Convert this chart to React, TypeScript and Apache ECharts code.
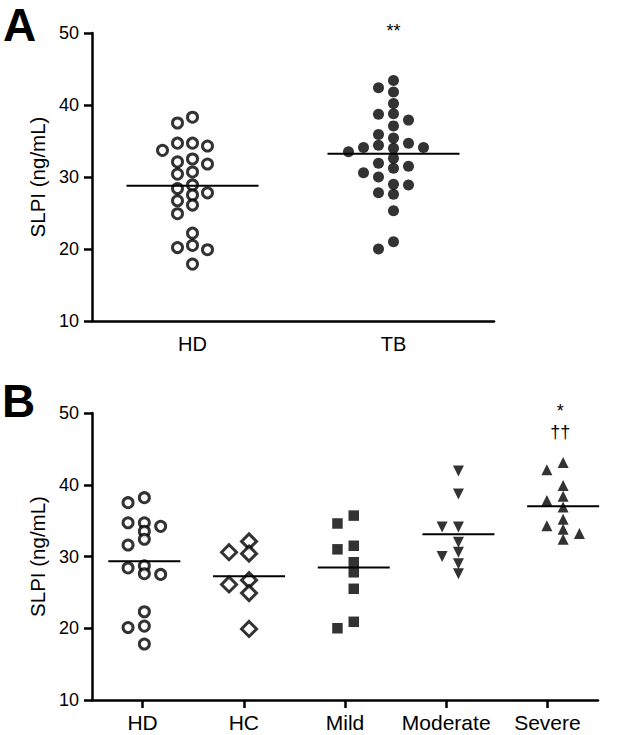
import React, { useEffect, useRef } from 'react';
import * as echarts from 'echarts';

// ---------- data ----------
const categoriesA = ['HD', 'TB'];
const hdA = [38.3, 37.5, 34.7, 33.7, 34.3, 34.7, 32.1, 31.8, 32.5, 30.7, 30.4, 28.4, 28.9, 27.5, 27.8, 26.7, 26.1, 24.9, 22.2, 20.2, 19.9, 20.5, 17.9];
const tbA = [43.4, 42.4, 41.8, 40.2, 38.8, 37.9, 38.7, 37.1, 35.9, 35.4, 34.7, 34.1, 34.0, 34.1, 34.4, 33.5, 32.6, 31.5, 31.9, 31.2, 30.6, 30.0, 28.9, 29.0, 27.6, 27.8, 25.3, 21.0, 20.0];

const categoriesB = ['HD', 'HC', 'Mild', 'Moderate', 'Severe'];
const hdB = [38.2, 37.5, 34.7, 34.2, 34.7, 33.5, 32.4, 31.6, 28.4, 28.7, 27.5, 27.6, 22.3, 20.3, 20.1, 17.8];
const hcB = [32.1, 30.4, 30.6, 26.1, 26.7, 24.9, 19.9];
const mildB = [35.7, 34.6, 31.5, 31.0, 29.2, 27.8, 25.5, 20.9, 20.0];
const moderateB = [41.9, 38.7, 34.1, 34.1, 32.0, 30.6, 30.0, 29.0, 27.6];
const severeB = [43.1, 42.1, 39.9, 38.4, 37.8, 36.9, 35.2, 34.3, 33.8, 33.2, 32.4];

const yMin = 10;
const yMax = 50;
const yStep = 10;
const yAxisTitle = 'SLPI (ng/mL)';
const panelLetters = ['A', 'B'];
const sigA = [{ category: 1, text: '**' }];
const sigB = [{ category: 4, text: '*' }, { category: 4, text: '††' }];

// ---------- layout ----------
const FONT = '"Liberation Sans", Arial, Helvetica, sans-serif';
const LEFT = 92;
const GA = { top: 33, height: 288, width: 402 };
const GB = { top: 413, height: 287, width: 506 };
const PITCH_B = 104.7; // px between point columns in panel B

const mean = (a: number[]) => a.reduce((s, v) => s + v, 0) / a.length;

function swarm(values: number[], cat: number, unitPx: number, yPx: number, colPx: number, minDist: number) {
  const order = values.map((_, i) => i).sort((a, b) => values[b] - values[a]);
  const cols = new Map<number, number[]>();
  const out: number[][] = new Array(values.length);
  for (const i of order) {
    const v = values[i];
    let k = 0;
    for (let s = 0; s < 30; s++) {
      const cand = s === 0 ? 0 : s % 2 === 1 ? -(s + 1) / 2 : s / 2;
      const list = cols.get(cand) || [];
      if (list.every((w) => Math.abs(w - v) * yPx >= minDist)) {
        k = cand;
        break;
      }
    }
    cols.set(k, [...(cols.get(k) || []), v]);
    out[i] = [cat + (k * colPx) / unitPx, v];
  }
  return out;
}

function meanLine(hw: number) {
  return (params: any, api: any) => {
    const c = api.coord([api.value(0), api.value(1)]);
    return {
      type: 'line',
      shape: { x1: c[0] - hw, y1: c[1], x2: c[0] + hw, y2: c[1] },
      style: { stroke: '#000', lineWidth: 2 },
    };
  };
}

const axisLineStyle = { color: '#000', width: 2.5 };

function yAxisFor(gridIndex: number) {
  return {
    type: 'value',
    gridIndex,
    min: yMin,
    max: yMax,
    interval: yStep,
    axisLine: { show: true, onZero: false, lineStyle: axisLineStyle },
    axisTick: { show: true, length: 8, lineStyle: axisLineStyle },
    axisLabel: { fontSize: 18, color: '#000', margin: 13, fontFamily: FONT },
    splitLine: { show: false },
    name: yAxisTitle,
    nameLocation: 'middle',
    nameGap: 37,
    nameTextStyle: { fontSize: 20.5, color: '#000', fontFamily: FONT },
  };
}

export default function App() {
  const ref = useRef<HTMLDivElement>(null);
  useEffect(() => {
    if (!ref.current) return;
    const chart = echarts.init(ref.current, undefined, { renderer: 'svg' });

    const unitA = GA.width / categoriesA.length;
    const yPxA = GA.height / (yMax - yMin);
    const yPxB = GB.height / (yMax - yMin);

    const groupsB = [hdB, hcB, mildB, moderateB, severeB];
    const symB = [
      { symbol: 'circle', size: 10, open: true, rotate: 0 },
      { symbol: 'diamond', size: 15, open: true, rotate: 0 },
      { symbol: 'rect', size: 10.5, open: false, rotate: 0 },
      { symbol: 'triangle', size: 11, open: false, rotate: 180 },
      { symbol: 'triangle', size: 11, open: false, rotate: 0 },
    ];
    const colB = [16.3, 20, 16.3, 16.3, 16.3];
    const distB = [7, 12, 9, 9, 9];

    const seriesB = groupsB.map((g, i) => ({
      type: 'scatter',
      xAxisIndex: 3,
      yAxisIndex: 1,
      symbol: symB[i].symbol,
      symbolSize: symB[i].size,
      symbolRotate: symB[i].rotate,
      data: swarm(g, i, PITCH_B, yPxB, colB[i], distB[i]),
      itemStyle: symB[i].open
        ? { color: '#fff', borderColor: '#000', borderWidth: 3 }
        : { color: '#000' },
      z: 2,
    }));

    const graphic: any[] = [
      { type: 'text', left: 3, top: 2, style: { text: panelLetters[0], font: `bold 46px ${FONT}`, fill: '#000' } },
      { type: 'text', left: 2, top: 378, style: { text: panelLetters[1], font: `bold 46px ${FONT}`, fill: '#000' } },
    ];
    sigA.forEach((s) => {
      graphic.push({
        type: 'text',
        x: LEFT + unitA * (s.category + 0.5),
        y: 31,
        style: { text: s.text, font: `18px ${FONT}`, fill: '#000', align: 'center', verticalAlign: 'middle' },
      });
    });
    sigB.forEach((s, j) => {
      graphic.push({
        type: 'text',
        x: LEFT + PITCH_B * (s.category + 0.5) - 3,
        y: 411 + j * 21,
        style: { text: s.text, font: `18px ${FONT}`, fill: '#000', align: 'center', verticalAlign: 'middle' },
      });
    });

    chart.setOption({
      animation: false,
      textStyle: { fontFamily: FONT },
      grid: [
        { left: LEFT, top: GA.top, width: GA.width, height: GA.height },
        { left: LEFT, top: GB.top, width: GB.width, height: GB.height },
      ],
      xAxis: [
        {
          type: 'category',
          gridIndex: 0,
          data: categoriesA,
          boundaryGap: true,
          axisLine: { show: true, onZero: false, lineStyle: axisLineStyle },
          axisTick: { show: false },
          axisLabel: { fontSize: 20, color: '#000', margin: 13, interval: 0, fontFamily: FONT },
          splitLine: { show: false },
        },
        { type: 'value', gridIndex: 0, show: false, min: -0.5, max: categoriesA.length - 0.5 },
        {
          type: 'category',
          gridIndex: 1,
          data: categoriesB,
          boundaryGap: true,
          axisLine: { show: true, onZero: false, lineStyle: axisLineStyle },
          axisTick: { show: true, alignWithLabel: true, length: 8, lineStyle: axisLineStyle },
          axisLabel: { fontSize: 21, color: '#000', margin: 12, interval: 0, fontFamily: FONT },
          splitLine: { show: false },
        },
        { type: 'value', gridIndex: 1, show: false, min: -0.5, max: -0.5 + GB.width / PITCH_B },
      ],
      yAxis: [yAxisFor(0), yAxisFor(1)],
      graphic,
      series: [
        {
          type: 'scatter',
          xAxisIndex: 1,
          yAxisIndex: 0,
          symbol: 'circle',
          symbolSize: 10,
          data: swarm(hdA, 0, unitA, yPxA, 15, 10),
          itemStyle: { color: '#fff', borderColor: '#000', borderWidth: 3 },
          z: 2,
        },
        {
          type: 'scatter',
          xAxisIndex: 1,
          yAxisIndex: 0,
          symbol: 'circle',
          symbolSize: 11,
          data: swarm(tbA, 1, unitA, yPxA, 15, 10),
          itemStyle: { color: '#000' },
          z: 2,
        },
        {
          type: 'custom',
          xAxisIndex: 1,
          yAxisIndex: 0,
          data: [hdA, tbA].map((g, i) => [i, mean(g)]),
          renderItem: meanLine(66),
          z: 3,
        },
        ...seriesB,
        {
          type: 'custom',
          xAxisIndex: 3,
          yAxisIndex: 1,
          data: groupsB.map((g, i) => [i, mean(g)]),
          renderItem: meanLine(36),
          z: 3,
        },
      ],
    });
    return () => chart.dispose();
  }, []);
  return <div ref={ref} style={{ position: 'absolute', left: 0, top: 0, width: 622, height: 735 }} />;
}
